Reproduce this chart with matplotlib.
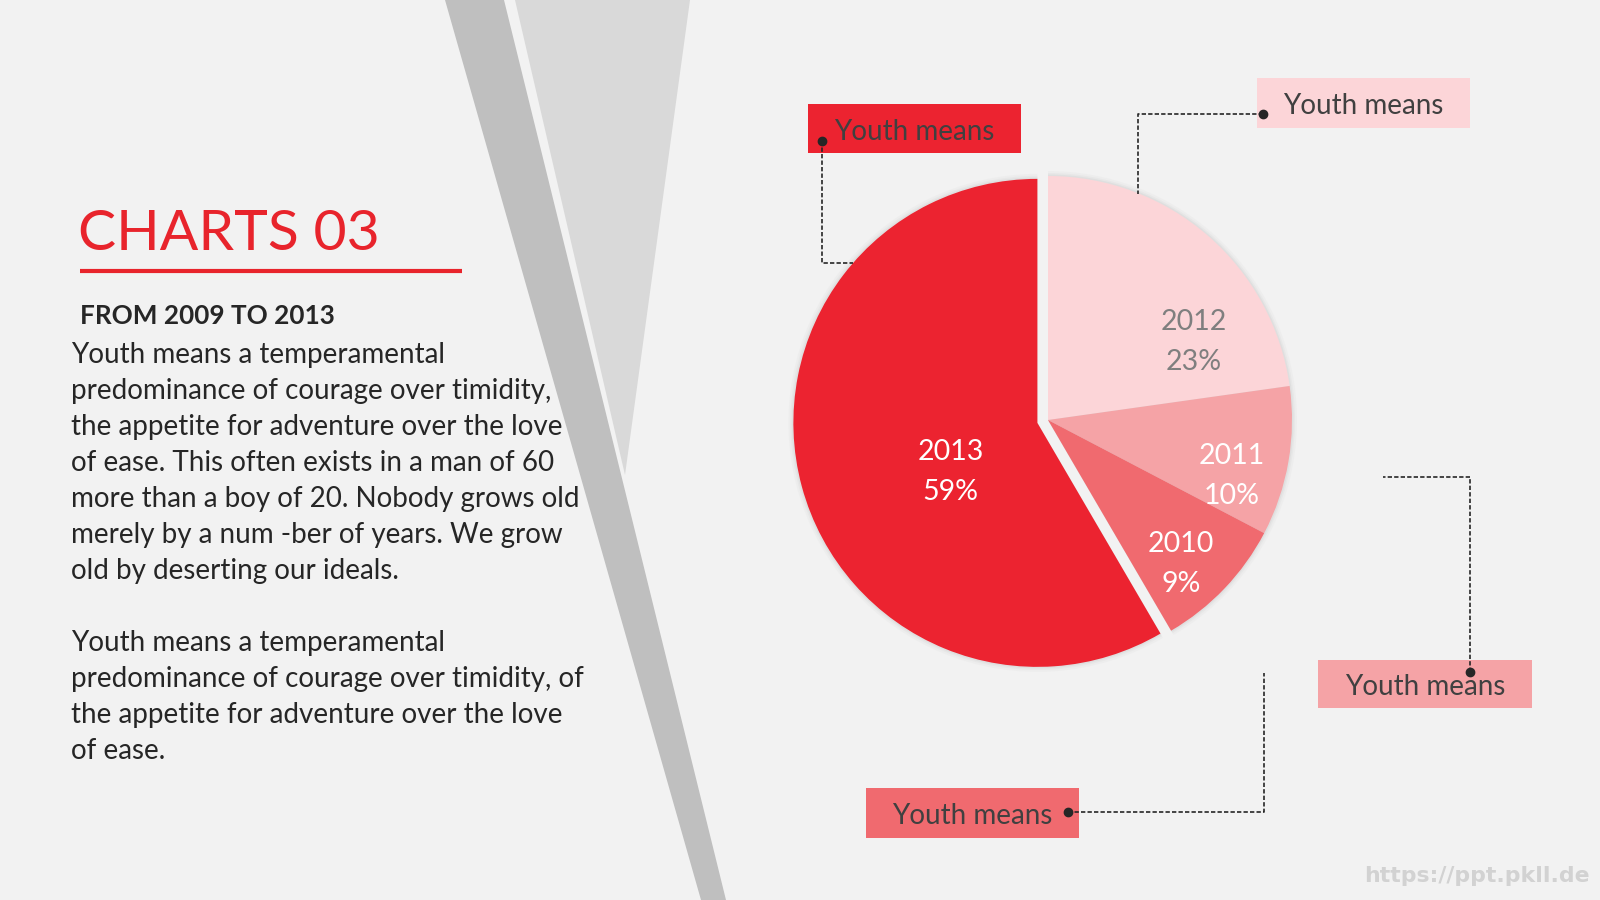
import matplotlib
matplotlib.use("Agg")
import matplotlib.pyplot as plt
from matplotlib.patches import Polygon, Rectangle

# ─── DATA ─────────────────────────────────────────────────────
years = ["2012", "2011", "2010", "2013"]          # clockwise from 12 o'clock
shares = [23, 10, 9, 59]
slice_colors = ["#fcd5d8", "#f5a3a6", "#f06a6f", "#ec2330"]
label_colors = ["#7f7f7f", "white", "white", "white"]

title = "CHARTS 03"
subtitle = "FROM 2009 TO 2013"
body_lines = [
    "Youth means a temperamental",
    "predominance of courage over timidity,",
    "the appetite for adventure over the love",
    "of ease. This often exists in a man of 60",
    "more than a boy of 20. Nobody grows old",
    "merely by a num -ber of years. We grow",
    "old by deserting our ideals.",
    "",
    "Youth means a temperamental",
    "predominance of courage over timidity, of",
    "the appetite for adventure over the love",
    "of ease.",
]
callout_text = "Youth means"
watermark = "https://ppt.pkll.de"

# ─── LAYOUT (pixels, y grows downward) ────────────────────────
W, H = 1600, 900
BG = "#f2f2f2"
TEXT = "#262626"
pie_center = (1048, 420)
pie_radius = 244
pie_explode = [0, 0, 0, 11]
# label offset from each wedge's own centre
label_offsets = [(146, -78), (184, 56), (133, 144), (-87, 49)]

# box (x, y, w, h), colour, dot, dashed path
callouts = [
    ((808, 104, 213, 49), "#ec2330", (822, 141), [(822, 141), (822, 263), (853, 263)]),
    ((1257, 78, 213, 50), "#fcd5d8", (1263, 114), [(1263, 114), (1138, 114), (1138, 194)]),
    ((1318, 660, 214, 48), "#f5a3a6", (1470, 672), [(1470, 672), (1470, 477), (1383, 477)]),
    ((866, 788, 213, 50), "#f06a6f", (1068, 812), [(1068, 812), (1264, 812), (1264, 673)]),
]

plt.rcParams["font.family"] = ["Lato", "DejaVu Sans"]

fig = plt.figure(figsize=(16, 9), dpi=100, facecolor=BG)
ax = fig.add_axes([0, 0, 1, 1])
ax.set_facecolor(BG)

# ─── DECOR BANDS ──────────────────────────────────────────────
ax.add_patch(Polygon([(515, 0), (690, 0), (625, 475)], closed=True,
                     facecolor="#d9d9d9", edgecolor="none", zorder=1))
ax.add_patch(Polygon([(445, 0), (504, 0), (726, 900), (701, 900)], closed=True,
                     facecolor="#bfbfbf", edgecolor="none", zorder=2))

# ─── PIE ──────────────────────────────────────────────────────
# y axis is inverted, so startangle=-90 + counterclock draws clockwise from the top
for grow, a in [(5, 0.10), (3, 0.15), (1.5, 0.25)]:
    ax.pie(shares, radius=pie_radius + grow, center=pie_center, explode=pie_explode,
           colors=["#c8c8c8"] * len(shares), startangle=-90, counterclock=True,
           wedgeprops=dict(linewidth=0, alpha=a, zorder=3), frame=True)
wedges, _ = ax.pie(shares, radius=pie_radius, center=pie_center, explode=pie_explode,
                   colors=slice_colors, startangle=-90, counterclock=True,
                   wedgeprops=dict(linewidth=0, zorder=4), frame=True)

for w, yr, s, c, (dx, dy) in zip(wedges, years, shares, label_colors, label_offsets):
    cx, cy = w.center
    ax.text(cx + dx, cy + dy, f"{yr}\n{s}%", color=c, fontsize=20.5,
            ha="center", va="center", linespacing=1.65, zorder=6)

# ─── CALLOUTS ─────────────────────────────────────────────────
for (bx, by, bw, bh), col, dot, path in callouts:
    ax.add_patch(Rectangle((bx, by), bw, bh, facecolor=col, edgecolor="none", zorder=5))
    ax.text(bx + bw / 2, by + bh / 2 + 3, callout_text, color="#404040", fontsize=20,
            ha="center", va="center", zorder=6)
    xs = [p[0] for p in path]
    ys = [p[1] for p in path]
    ax.plot(xs, ys, color="#262626", lw=1.2, linestyle=(0, (2.6, 1.3)), zorder=7)
    ax.plot(*dot, "o", color="#262626", markersize=6, zorder=8)

# ─── LEFT TEXT ────────────────────────────────────────────────
ax.text(78, 250, title, color="#e8242c", fontsize=41, ha="left", va="baseline", zorder=6)
ax.plot([80, 462], [271, 271], color="#e8242c", lw=3, solid_capstyle="butt", zorder=6)
ax.text(80, 324, subtitle, color=TEXT, fontsize=18.8, fontweight="bold",
        ha="left", va="baseline", zorder=6)
for i, line in enumerate(body_lines):
    ax.text(71, 355 + i * 36, line, color=TEXT, fontsize=20.0,
            ha="left", va="center", zorder=6)

ax.text(1590, 876, watermark, color="#d2d2d2", fontsize=15.8, fontweight="bold",
        family="DejaVu Sans", ha="right", va="center", zorder=6)

ax.set_xlim(0, W)
ax.set_ylim(H, 0)
ax.set_aspect("auto")
ax.axis("off")

fig.savefig("out.png", dpi=100, facecolor=BG)
